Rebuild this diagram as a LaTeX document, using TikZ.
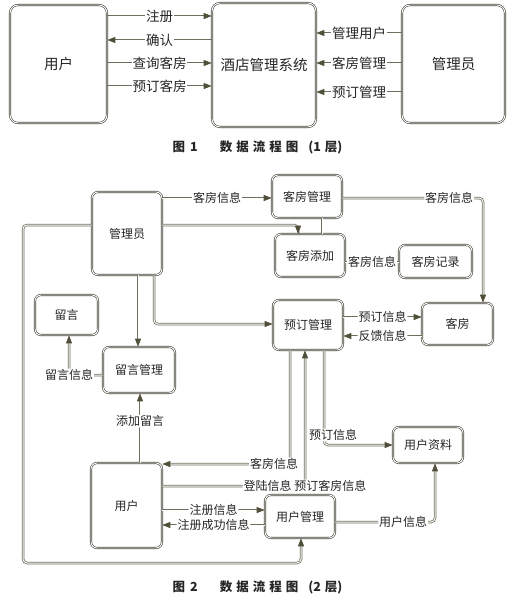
\documentclass[tikz,border=0pt]{standalone}
\usepackage{fontspec}
\setmainfont{Noto Sans CJK SC}
\usetikzlibrary{arrows.meta}
\definecolor{linec}{RGB}{110,110,92}
\definecolor{tipc}{RGB}{80,80,58}
\definecolor{boxc}{RGB}{70,70,60}
\tikzset{
	box/.style={draw=boxc, double=white, double distance=0.9pt, line width=0.6pt, rounded corners=6pt, fill=white, font=\fontsize{12}{12}\selectfont, text=black!85},
	bigbox/.style={box, rounded corners=8pt, font=\fontsize{14.5}{14.5}\selectfont},
	flowa/.style={draw=linec, line width=1pt, -{Triangle[length=8pt,width=6pt,color=tipc]}},
	flowb/.style={draw=linec, double=white, double distance=1pt, line width=0.75pt, rounded corners=4pt, -{Triangle[length=8pt,width=6pt,color=tipc]}},
	flowc/.style={flowb, -},
	lbl/.style={fill=white, inner sep=0.8pt, font=\fontsize{12}{12}\selectfont, text=black!85},
	biglbl/.style={lbl, font=\fontsize{13.5}{13.5}\selectfont},
	capt/.style={font=\fontsize{12.5}{12.5}\selectfont\bfseries, text=black!85}
}
\begin{document}
\begin{tikzpicture}[x=1pt,y=-1pt]
				\useasboundingbox [fill=white] (0,0) rectangle (513,599);
				\node [bigbox, minimum width=97pt, minimum height=118pt] (user) at (58.5,64) {用户};
				\node [bigbox, minimum width=104pt, minimum height=124pt] (sys) at (264,65) {酒店管理系统};
				\node [bigbox, minimum width=103pt, minimum height=118pt] (admin) at (453.5,64) {管理员};
				\draw [flowa] (user.east |- 0,16) -- (sys.west |- 0,16) node [biglbl, midway] {注册};
				\draw [flowa] (sys.west |- 0,40) -- (user.east |- 0,40) node [biglbl, midway] {确认};
				\draw [flowa] (user.east |- 0,63) -- (sys.west |- 0,63) node [biglbl, midway] {查询客房};
				\draw [flowa] (user.east |- 0,86) -- (sys.west |- 0,86) node [biglbl, midway] {预订客房};
				\draw [flowa] (admin.west |- 0,33) -- (sys.east |- 0,33) node [biglbl, midway] {管理用户};
				\draw [flowa] (admin.west |- 0,63) -- (sys.east |- 0,63) node [biglbl, midway] {客房管理};
				\draw [flowa] (admin.west |- 0,92) -- (sys.east |- 0,92) node [biglbl, midway] {预订管理};
				\node [capt] (cap1) at (257.5,147) {图\hspace{5pt}1\hspace{22pt}数\hspace{4pt}据\hspace{4pt}流\hspace{4pt}程\hspace{4pt}图\hspace{10pt}(1\hspace{4pt}层)};
				\node [box, minimum width=70pt, minimum height=83pt] (mgr) at (127,233.5) {管理员};
				\node [box, minimum width=70pt, minimum height=43pt] (roomMgr) at (307,196.5) {客房管理};
				\node [box, minimum width=70pt, minimum height=43pt] (roomAdd) at (310,255.5) {客房添加};
				\node [box, minimum width=73pt, minimum height=33pt] (roomRec) at (435.5,261.5) {客房记录};
				\node [box, minimum width=63pt, minimum height=40pt] (msg) at (66.5,315) {留言};
				\node [box, minimum width=70pt, minimum height=50pt] (bookMgr) at (308,325) {预订管理};
				\node [box, minimum width=71pt, minimum height=42pt] (room) at (457.5,324) {客房};
				\node [box, minimum width=72pt, minimum height=46pt] (msgMgr) at (139,370) {留言管理};
				\node [box, minimum width=70pt, minimum height=36pt] (userInfo) at (428,445) {用户资料};
				\node [box, minimum width=71pt, minimum height=85pt] (user2) at (126.5,505.5) {用户};
				\node [box, minimum width=70pt, minimum height=43pt] (userMgr) at (300,516.5) {用户管理};
				\draw [flowb] (mgr.east |- 0,198) -- (roomMgr.west |- 0,198) node [lbl, midway] {客房信息};
				\draw [flowb] (roomMgr.east |- 0,198) -| ([xshift=25.5pt]room.north) node [lbl, pos=0.38] {客房信息};
				\draw [flowb] (mgr.east |- 0,225) -| ([xshift=-12pt]roomAdd.north);
				\draw [flowc] ([xshift=15pt]roomMgr.south) -- ([xshift=15pt]roomMgr.south |- roomAdd.north);
				\draw [flowc] (roomAdd.east |- 0,262) -- (roomRec.west |- 0,262) node [lbl, midway] {客房信息};
				\draw [flowb] ([xshift=11pt]mgr.south) -- ([xshift=11pt]mgr.south |- msgMgr.north);
				\draw [flowb] ([xshift=27pt]mgr.south) |- (bookMgr.west |- 0,324);
				\draw [flowb] (bookMgr.east |- 0,317) -- (room.west |- 0,317) node [lbl, midway] {预订信息};
				\draw [flowb] (room.west |- 0,336) -- (bookMgr.east |- 0,336) node [lbl, midway] {反馈信息};
				\draw [flowb] (msgMgr.west |- 0,375) -| ([xshift=2.5pt]msg.south) node [lbl, pos=0.5] {留言信息};
				\draw [flowb] ([xshift=13.5pt]user2.north) -- ([xshift=13.5pt]user2.north |- msgMgr.south) node [lbl, pos=0.6] {添加留言};
				\draw [flowb] ([xshift=-18pt]bookMgr.south) |- (user2.east |- 0,464) node [lbl, pos=0.5625] {客房信息};
				\draw [flowb] (user2.east |- 0,486) -| ([xshift=-3pt]bookMgr.south) node [lbl, pos=0.5] {登陆信息 预订客房信息};
				\draw [flowb] ([xshift=16pt]bookMgr.south) |- (userInfo.west |- 0,445) node [lbl, pos=0.5, xshift=9pt, yshift=10pt] {预订信息};
				\draw [flowb] (user2.east |- 0,510) -- (userMgr.west |- 0,510) node [lbl, midway] {注册信息};
				\draw [flowb] (userMgr.west |- 0,525) -- (user2.east |- 0,525) node [lbl, midway] {注册成功信息};
				\draw [flowb] (userMgr.east |- 0,522) -| ([xshift=7pt]userInfo.south) node [lbl, pos=0.34] {用户信息};
				\draw [flowb] (mgr.west |- 0,225) -| (23,563) -| ([xshift=1pt]userMgr.south);
				\node [capt] (cap2) at (257.5,587) {图\hspace{5pt}2\hspace{22pt}数\hspace{4pt}据\hspace{4pt}流\hspace{4pt}程\hspace{4pt}图\hspace{10pt}(2\hspace{4pt}层)};
			\end{tikzpicture}
\end{document}
